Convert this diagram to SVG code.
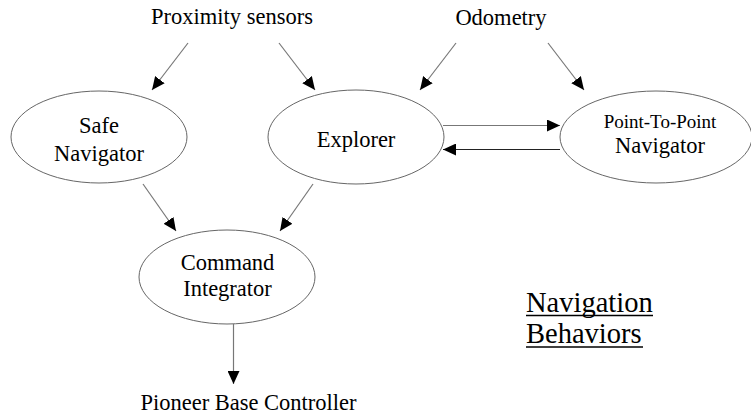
<svg xmlns="http://www.w3.org/2000/svg" width="751" height="414" viewBox="0 0 751 414">
<style>
text{fill:#000;text-anchor:middle}
.t{font-size:22.5px}
.s{font-size:19px}
.h{font-size:28.5px;text-anchor:start}
ellipse{fill:#fff;stroke:#666;stroke-width:1}
.c line{stroke:#777;stroke-width:1.2}
</style>
<defs>
<marker id="ah" markerWidth="13" markerHeight="12" refX="13" refY="6" orient="auto" markerUnits="userSpaceOnUse">
<path d="M0,0 L13,6 L0,12 Z" fill="#000"/>
</marker>
</defs>
<rect width="751" height="414" fill="#fff"/>
<g font-family="Liberation Serif, DejaVu Serif, serif">
<g id="proximity"><text class="t" x="232" y="24">Proximity sensors</text></g>
<g id="odometry"><text class="t" x="501" y="25">Odometry</text></g>
<g id="safe"><ellipse cx="99" cy="137" rx="88" ry="46"/><text class="t" x="99" y="133">Safe</text><text class="t" x="99" y="161">Navigator</text></g>
<g id="explorer"><ellipse cx="356" cy="137" rx="88" ry="47"/><text class="t" x="356" y="147">Explorer</text></g>
<g id="ptp"><ellipse cx="656" cy="137" rx="96" ry="46"/><text class="s" x="660" y="128">Point-To-Point</text><text class="t" x="660" y="153">Navigator</text></g>
<g id="command"><ellipse cx="227" cy="277" rx="88" ry="47"/><text class="t" x="227.5" y="270">Command</text><text class="t" x="227.5" y="296">Integrator</text></g>
<g id="pioneer"><text class="t" x="248.5" y="410">Pioneer Base Controller</text></g>
<g id="title"><text class="h" x="526" y="312">Navigation</text><text class="h" x="526" y="343">Behaviors</text>
<line x1="526" y1="315.5" x2="653" y2="315.5" stroke="#000" stroke-width="1.5"/><line x1="526" y1="347" x2="643" y2="347" stroke="#000" stroke-width="1.5"/></g>
</g>
<g class="c" id="connectors">
<line x1="188" y1="43" x2="152" y2="90" marker-end="url(#ah)"/>
<line x1="279" y1="43" x2="315" y2="90" marker-end="url(#ah)"/>
<line x1="456" y1="43" x2="420" y2="90" marker-end="url(#ah)"/>
<line x1="548" y1="43" x2="584" y2="90" marker-end="url(#ah)"/>
<line x1="443" y1="125.5" x2="560" y2="125.5" marker-end="url(#ah)"/>
<line x1="560" y1="149.5" x2="443" y2="149.5" marker-end="url(#ah)" style="stroke:#222"/>
<line x1="143" y1="184" x2="176" y2="231" marker-end="url(#ah)"/>
<line x1="313" y1="184" x2="280" y2="231" marker-end="url(#ah)"/>
<line x1="233.5" y1="324" x2="233.5" y2="384" marker-end="url(#ah)"/>
</g>
</svg>
